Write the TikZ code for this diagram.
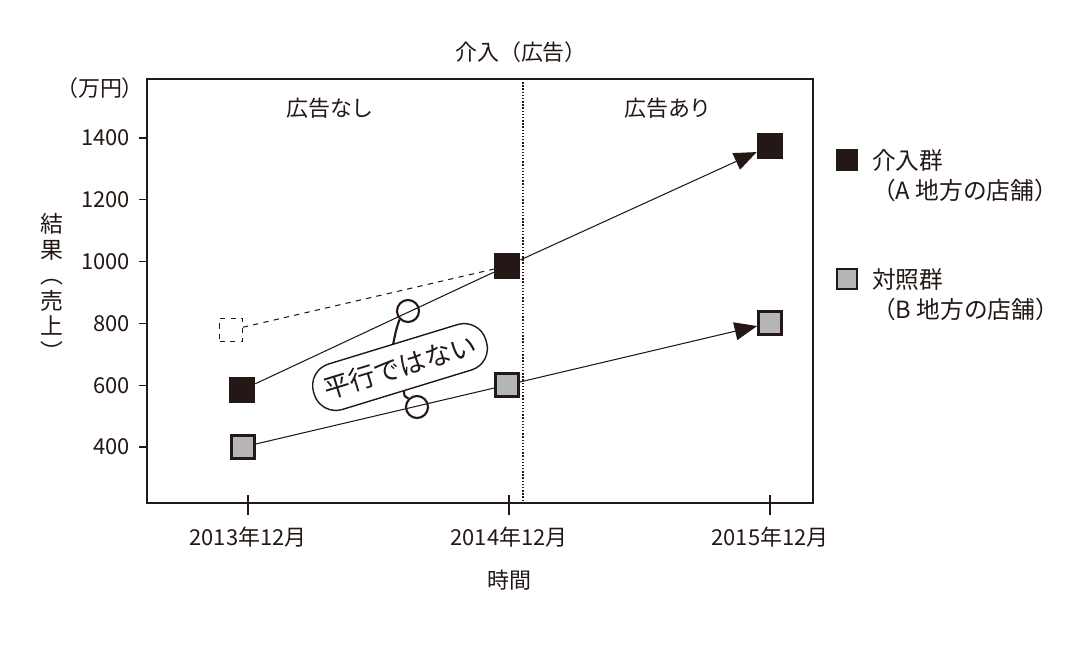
\documentclass[tikz,border=0pt]{standalone}
\usepackage{fontspec}
\setmainfont{Noto Sans CJK JP}
\usetikzlibrary{arrows.meta,positioning}
\definecolor{darkmark}{RGB}{35,24,21}
\definecolor{graymark}{RGB}{180,181,181}

\begin{document}
\begin{tikzpicture}[
    x=0.02cm, y=-0.02cm,
    every node/.style={font=\fontsize{12.5}{15}\selectfont, text=darkmark},
    treat/.style={rectangle, fill=darkmark, minimum size=0.52cm, inner sep=0pt},
    ctrl/.style={rectangle, draw=darkmark, line width=1.6pt, fill=graymark, minimum size=0.46cm, inner sep=0pt},
    ghost/.style={rectangle, draw=darkmark, dashed, fill=white, minimum size=0.46cm, inner sep=0pt},
    trend/.style={draw=darkmark, line width=0.6pt},
    tip/.style={-{Triangle[length=0.45cm, width=0.36cm]}},
    ring/.style={circle, draw=darkmark, line width=1.2pt, fill=none, minimum size=0.44cm, inner sep=0pt}
]
\useasboundingbox (0,0) rectangle (1068,646);

% frame and axes
\draw[darkmark, line width=0.6pt] (147,79) rectangle (813,503);
\draw[darkmark, densely dotted, line width=0.8pt] (523,79) -- (523,503);
\foreach \v/\yy in {1400/138,1200/199.8,1000/261.6,800/323.4,600/385.2,400/447} {
    \draw[darkmark, line width=0.6pt] (139,\yy) -- (147,\yy);
    \node[anchor=east] at (136,\yy) {\v};
}
\foreach \xx/\lab in {248/2013年12月,509/2014年12月,770/2015年12月} {
    \draw[darkmark, line width=0.6pt] (\xx,495) -- (\xx,515);
    \node at (\xx,537) {\lab};
}

% labels
\node (unit) at (100,88) {（万円）};
\node (title) at (521,52) {介入（広告）};
\node (before) at (330,108) {広告なし};
\node (after) at (668,108) {広告あり};
\node (xlab) at (509,580) {時間};
\node[align=center, inner sep=0pt, font=\fontsize{13}{14.5}\selectfont] (ylab) at (52,287)
    {結\\果\\︵\\売\\上\\︶};

% data
\node[ghost] (g13) at (231,330) {};
\node[treat] (t13) at (242,390) {};
\node[treat] (t14) at (507,266) {};
\node[treat] (t15) at (770,146) {};
\node[ctrl] (c13) at (243,447) {};
\node[ctrl] (c14) at (507,385) {};
\node[ctrl] (c15) at (770,323) {};

\draw[trend, dashed] (g13) -- (t14);
\draw[trend] (t13) -- (t14);
\draw[trend, tip] (t14) -- (t15);
\draw[trend] (c13) -- (c14);
\draw[trend, tip] (c14) -- (c15);

% annotation
\node[ring] (r1) at (408,311) {};
\node[ring] (r2) at (417,407) {};
\draw[darkmark, line width=1.2pt] (r1.south west) .. controls (396,330) .. (393,345);
\draw[darkmark, line width=1.2pt] (r2.north west) .. controls (404,396) .. (404,390);
\node[draw=darkmark, line width=0.8pt, fill=white, rounded corners=0.45cm, rotate=17,
      minimum width=3.6cm, minimum height=0.95cm,
      font=\fontsize{15}{18}\selectfont] (note) at (400,367) {平行ではない};

% legend
\node[treat, minimum size=0.44cm] (legA) at (847,160) {};
\node[anchor=north west, align=left, font=\fontsize{13.5}{17}\selectfont] (legAt) at (866,143) {介入群\\（A 地方の店舗）};
\node[ctrl, minimum size=0.40cm] (legB) at (847,279) {};
\node[anchor=north west, align=left, font=\fontsize{13.5}{17}\selectfont] (legBt) at (866,262) {対照群\\（B 地方の店舗）};
\end{tikzpicture}
\end{document}
